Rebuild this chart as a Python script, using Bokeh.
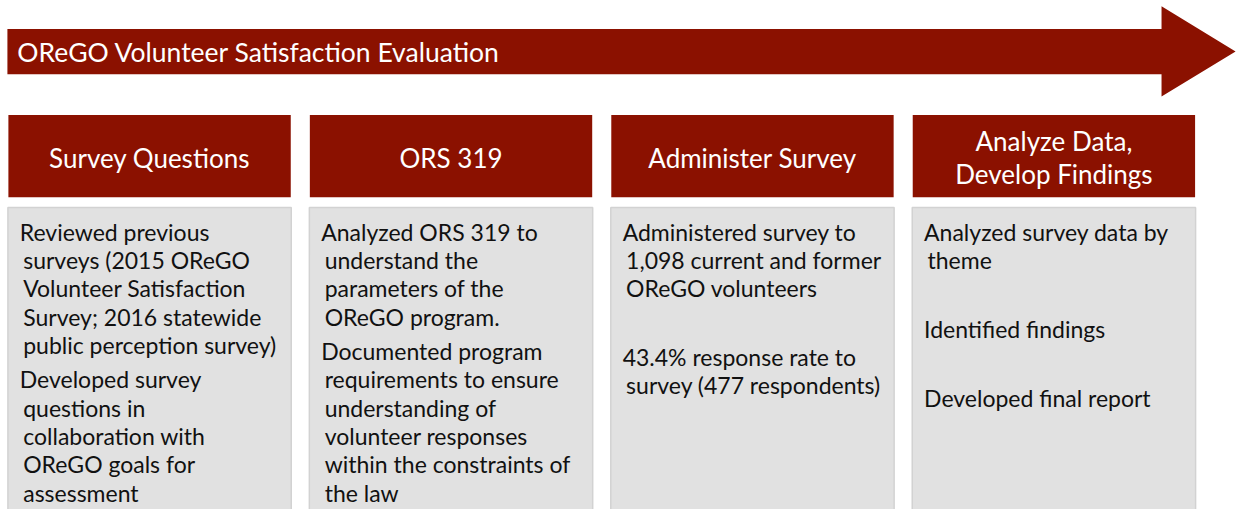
from bokeh.plotting import figure
from bokeh.models import Range1d, ColumnDataSource
from bokeh.core.properties import value
from bokeh.embed import file_html
from bokeh.resources import INLINE

# ---------------- content ----------------
title_text = "OReGO Volunteer Satisfaction Evaluation"
stage_titles = [
    ["Survey Questions"],
    ["ORS 319"],
    ["Administer Survey"],
    ["Analyze Data,", "Develop Findings"],
]
stage_details = [
    [["Reviewed previous", "surveys (2015 OReGO", "Volunteer Satisfaction",
      "Survey; 2016 statewide", "public perception survey)"],
     ["Developed survey", "questions in", "collaboration with",
      "OReGO goals for", "assessment"]],
    [["Analyzed ORS 319 to", "understand the", "parameters of the",
      "OReGO program."],
     ["Documented program", "requirements to ensure", "understanding of",
      "volunteer responses", "within the constraints of", "the law"]],
    [["Administered survey to", "1,098 current and former", "OReGO volunteers"],
     [""],
     ["43.4% response rate to", "survey (477 respondents)"]],
    [["Analyzed survey data by", "theme"],
     [""],
     ["Identified findings"],
     [""],
     ["Developed final report"]],
]

# ---------------- style / layout ----------------
RED = "#8B1100"
GRAY = "#E1E1E1"
GRAY_LINE = "#D2D2D2"
FONT = "Lato"
W, H = 1241, 509          # pixel size of the figure
VW, VH = 1257, 525        # drawing coordinates

box_left0, box_step, box_w = 8.0, 305.33, 286.0
head_top, head_bot = 118.0, 203.0
body_top = 213.5
line_h, para_h = 29.2, 35.5
first_mid = 238.5
indent_first, indent_rest = 11.5, 15.0

p = figure(width=W, height=H, output_backend="svg", toolbar_location=None,
           x_range=Range1d(0, VW), y_range=Range1d(VH, 0),
           min_border=0, outline_line_color=None)
p.axis.visible = False
p.grid.visible = False
p.background_fill_color = "white"
p.border_fill_color = "white"

# ---- arrow ----
ax0, ax1, atip = 7.0, 1176.0, 1251.0
ay0, ay1, hy0, hy1 = 29.3, 76.0, 6.0, 99.0
amid = (hy0 + hy1) / 2
p.patch([ax0, ax1, ax1, atip, ax1, ax1, ax0],
        [ay0, ay0, hy0, amid, hy1, ay1, ay1],
        fill_color=RED, line_color=None)
p.text(x=[17], y=[53], text=[title_text], text_color="white",
       text_font=value(FONT), text_font_size="26.5px",
       text_baseline="middle", text_align="left")

# ---- boxes ----
lefts = [box_left0 + i * box_step for i in range(len(stage_titles))]
p.quad(left=lefts, right=[l + box_w for l in lefts],
       top=[head_top] * len(lefts), bottom=[head_bot] * len(lefts),
       fill_color=RED, line_color=None)
p.quad(left=[l - 0.5 for l in lefts], right=[l + box_w + 0.5 for l in lefts],
       top=[body_top] * len(lefts), bottom=[VH + 5] * len(lefts),
       fill_color=GRAY, line_color=GRAY_LINE, line_width=1.5)

# header texts
hx, hy, ht = [], [], []
head_mid = 162.0
head_lh = 34.0
for l, lines in zip(lefts, stage_titles):
    n = len(lines)
    for k, t in enumerate(lines):
        hx.append(l + box_w / 2)
        hy.append(head_mid + (k - (n - 1) / 2) * head_lh)
        ht.append(t)
p.text(x="x", y="y", text="t", source=ColumnDataSource(dict(x=hx, y=hy, t=ht)),
       text_color="white", text_font=value(FONT), text_font_size="26px",
       text_baseline="middle", text_align="center")

# body texts
bx, by, bt = [], [], []
for l, paras in zip(lefts, stage_details):
    y = first_mid
    for pi, para in enumerate(paras):
        if pi > 0:
            y += para_h
        for li, t in enumerate(para):
            if li > 0:
                y += line_h
            if t:
                bx.append(l + (indent_first if li == 0 else indent_rest))
                by.append(y)
                bt.append(t)
p.text(x="x", y="y", text="t", source=ColumnDataSource(dict(x=bx, y=by, t=bt)),
       text_color="#111111", text_font=value(FONT), text_font_size="23px",
       text_baseline="middle", text_align="left")

open("out.html", "w").write(file_html(p, INLINE))
